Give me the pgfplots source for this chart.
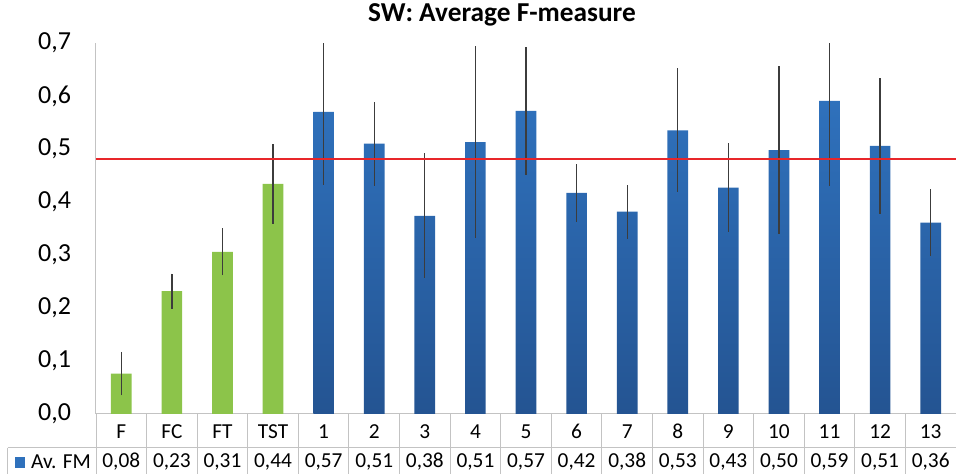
\documentclass[border=0pt]{standalone}
\usepackage{fontspec}
\setmainfont{Carlito}
\usepackage{pgfplots}
\pgfplotsset{compat=1.18}
\usepackage{pgfplotstable}
\definecolor{bargreen}{RGB}{140,196,74}
\definecolor{bluetop}{RGB}{47,113,188}
\definecolor{bluebot}{RGB}{36,84,146}
\definecolor{errgray}{RGB}{60,60,60}
\definecolor{gridgray}{RGB}{195,195,195}
\definecolor{linered}{RGB}{232,38,42}

\pgfplotstableread{
x y e
0 0.076 0.041
1 0.232 0.033
2 0.306 0.044
3 0.434 0.075
}\greendata
\pgfplotstableread{
x y e
4 0.570 0.138
5 0.510 0.079
6 0.374 0.118
7 0.513 0.181
8 0.572 0.121
9 0.417 0.054
10 0.382 0.051
11 0.535 0.117
12 0.427 0.084
13 0.498 0.159
14 0.591 0.160
15 0.506 0.128
16 0.361 0.063
}\bluedata

\begin{document}
\begin{tikzpicture}
\useasboundingbox (-72pt,-45pt) rectangle (645pt,310.5pt);
\begin{axis}[
  at={(0,0)}, anchor=south west,
  scale only axis, width=645pt, height=278.25pt,
  xmin=-0.5, xmax=16.5, ymin=0, ymax=0.7,
  ytick={0,0.1,0.2,0.3,0.4,0.5,0.6,0.7},
  xtick={0,1,...,16},
  xticklabels={F,FC,FT,TST,1,2,3,4,5,6,7,8,9,10,11,12,13},
  xticklabel style={anchor=center, inner sep=0pt, yshift=-13pt, font=\fontsize{16}{18}\selectfont},
  yticklabel style={anchor=east, inner sep=0pt, xshift=-18.5pt, font=\fontsize{19.5}{22}\selectfont,
    /pgf/number format/fixed, /pgf/number format/fixed zerofill,
    /pgf/number format/precision=1, /pgf/number format/use comma,
    /pgf/number format/assume math mode=true},
  major tick length=0pt,
  tick style={draw=none},
  axis x line*=bottom, axis y line*=left,
  axis line style={gridgray, line width=0.75pt, -},
]
\addplot[ybar, bar width=15.5pt, fill=bargreen, draw=none,
  error bars/.cd, y dir=both, y explicit,
  error bar style={errgray, line width=1pt}, error mark=none]
  table[x=x, y=y, y error=e] {\greendata};
\addplot[ybar, bar width=15.5pt, draw=none, top color=bluetop, bottom color=bluebot,
  error bars/.cd, y dir=both, y explicit,
  error bar style={errgray, line width=1pt}, error mark=none]
  table[x=x, y=y, y error=e] {\bluedata};
\addplot[linered, line width=1.6pt] coordinates {(-0.5,0.481) (16.5,0.481)};
\end{axis}
% data table below the chart
\foreach \k in {0,...,17} \draw[gridgray, line width=0.75pt] (\k*37.9412pt,0pt) -- (\k*37.9412pt,-45pt);
\draw[gridgray, line width=0.75pt] (-66pt,-25.3pt) -- (645pt,-25.3pt);
\draw[gridgray, line width=0.75pt] (-66pt,-25.3pt) -- (-66pt,-45pt);
\foreach \v [count=\i from 0] in {{0,08},{0,23},{0,31},{0,44},{0,57},{0,51},{0,38},{0,51},{0,57},{0,42},{0,38},{0,53},{0,43},{0,50},{0,59},{0,51},{0,36}}
  \node[font=\fontsize{16}{18}\selectfont, inner sep=0pt] at ({(\i+0.5)*37.9412pt},-35.7pt) {\v};
\fill[bluetop] (-60.75pt,-32.25pt) rectangle (-53.25pt,-40.5pt);
\node[font=\fontsize{16}{18}\selectfont, inner sep=0pt] at (-26.25pt,-35.7pt) {Av. FM};
\node[font=\bfseries\fontsize{20.5}{24}\selectfont, inner sep=0pt] at (304.5pt,299pt) {SW: Average F-measure};
\end{tikzpicture}
\end{document}
